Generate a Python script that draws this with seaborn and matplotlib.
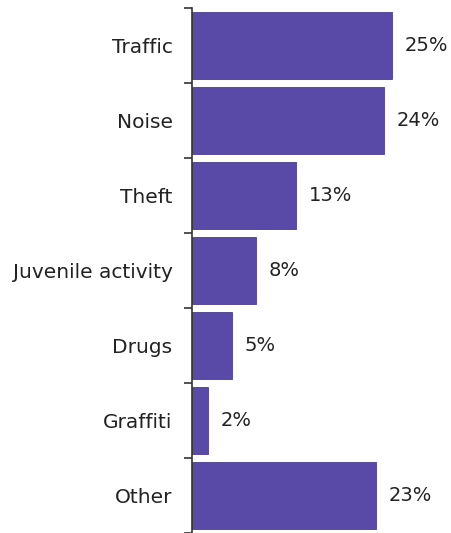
import numpy as np
import pandas as pd
import matplotlib
matplotlib.use("Agg")
import matplotlib.pyplot as plt
import seaborn as sns

# chart values
categories = ["Traffic", "Noise", "Theft", "Juvenile activity", "Drugs", "Graffiti", "Other"]
percent = [25, 24, 13, 8, 5, 2, 23]
labels = ["25%", "24%", "13%", "8%", "5%", "2%", "23%"]

sns.set_style("white")
plt.rcParams["font.family"] = ["DejaVu Sans"]

data = pd.DataFrame({"Category": categories, "Percent": percent})

fig = plt.figure(figsize=(4.51, 5.33), dpi=100)
ax = fig.add_axes([192 / 451, 0.0, 259 / 451, 525 / 533])

sns.barplot(data=data, x="Percent", y="Category", orient="h",
            color="#5a4aa8", saturation=1, width=0.9,
            edgecolor="#4a3c90", linewidth=0.6, ax=ax)

ax.set_xlim(0, 259 / 8)
ax.set_ylim(len(categories) - 0.5, -0.5)

for i, (v, lab) in enumerate(zip(percent, labels)):
    ax.text(v + 1.6, i, lab, va="center", ha="left", fontsize=14, color="#222222")

# category labels, ticks only at the slot boundaries
ax.tick_params(axis="y", which="major", left=True, length=0, pad=14,
               labelsize=14.5, labelcolor="#222222")
ax.set_yticks(np.arange(len(categories) + 1) - 0.5, minor=True)
ax.tick_params(axis="y", which="minor", left=True, length=6, width=1.2,
               color="#333333", direction="out")
ax.set_xticks([])
ax.set_xlabel("")
ax.set_ylabel("")

for side in ["top", "right", "bottom"]:
    ax.spines[side].set_visible(False)
ax.spines["left"].set_color("#333333")
ax.spines["left"].set_linewidth(1.2)

fig.savefig("out.png", dpi=100)
